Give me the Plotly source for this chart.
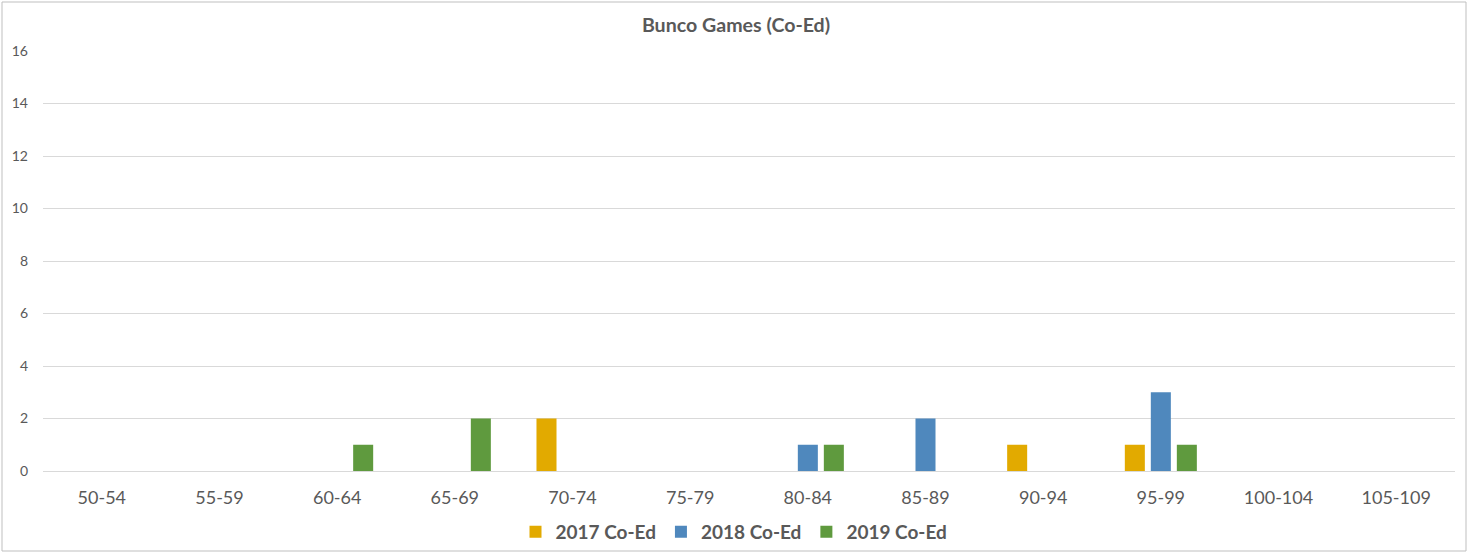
import plotly.graph_objects as go

categories = ["50-54", "55-59", "60-64", "65-69", "70-74", "75-79", "80-84",
              "85-89", "90-94", "95-99", "100-104", "105-109"]
s2017 = [0, 0, 0, 0, 2, 0, 0, 0, 1, 1, 0, 0]
s2018 = [0, 0, 0, 0, 0, 0, 1, 2, 0, 3, 0, 0]
s2019 = [0, 0, 1, 2, 0, 0, 1, 0, 0, 1, 0, 0]
series_names = ["2017 Co-Ed", "2018 Co-Ed", "2019 Co-Ed"]
colors = ["#E2AA00", "#4F88BD", "#5F9A3E"]

fig = go.Figure()
for name, vals, c in zip(series_names, [s2017, s2018, s2019], colors):
    fig.add_trace(go.Bar(x=categories, y=vals, name="<b>" + name + "</b>",
                         marker=dict(color=c, line=dict(width=0))))

FONT = "Lato, Open Sans, sans-serif"
fig.update_layout(
    width=1469, height=554,
    barmode="group", bargap=0.337, bargroupgap=0.23,
    plot_bgcolor="white", paper_bgcolor="white",
    margin=dict(l=43, r=14, t=51, b=83, autoexpand=False),
    title=dict(text="<b>Bunco Games (Co-Ed)</b>", x=736 / 1469, xanchor="center",
               y=1 - 25 / 554, yanchor="middle", yref="container", xref="container",
               font=dict(family=FONT, size=19.6, color="#595959")),
    font=dict(family=FONT, color="#595959"),
    xaxis=dict(showgrid=False, tickfont=dict(size=18, color="#595959"),
               showline=True, linecolor="#D9D9D9", linewidth=1, ticks="",
               ticklabelstandoff=10),
    yaxis=dict(range=[0, 16], dtick=2, showgrid=True, gridcolor="#D9D9D9",
               gridwidth=1, zeroline=False, tickfont=dict(size=14, color="#595959"),
               ticks="", ticklabelstandoff=14),
    legend=dict(orientation="h", x=734 / 1469, xanchor="center", xref="container",
                y=1 - 532 / 554, yanchor="middle", yref="container",
                font=dict(size=19, color="#595959", family=FONT),
                itemwidth=30, traceorder="normal", bgcolor="rgba(0,0,0,0)"),
    showlegend=True,
)

fig.add_shape(type="rect", xref="paper", yref="paper",
              x0=(2 - 43) / 1412, x1=(1466 - 43) / 1412,
              y0=(471 - 551) / 420, y1=(471 - 2) / 420,
              line=dict(color="#BFBFBF", width=1), fillcolor="rgba(0,0,0,0)", layer="below")

fig.write_html("out.html", config={"displayModeBar": False},
               post_script="document.body.style.margin='0';document.body.style.padding='0';")
